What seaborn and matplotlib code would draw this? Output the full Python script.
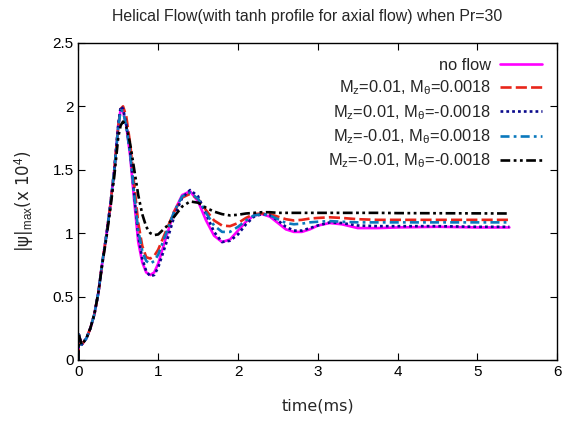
import numpy as np
import matplotlib
matplotlib.use("Agg")
import matplotlib.pyplot as plt
import seaborn as sns
import pandas as pd

# time axis (ms) and |psi|max (x 10^4)
time = [0.0, 0.005, 0.04, 0.1, 0.15, 0.2, 0.25, 0.3, 0.35, 0.4, 0.45, 0.5, 0.53, 0.56,
        0.6, 0.65, 0.7, 0.75, 0.8, 0.85, 0.9, 0.95, 1.0, 1.1, 1.2, 1.3, 1.4, 1.5,
        1.6, 1.7, 1.8, 1.9, 2.0, 2.1, 2.2, 2.3, 2.4, 2.5, 2.6, 2.7, 2.8, 2.9, 3.0,
        3.15, 3.3, 3.5, 3.75, 4.0, 4.5, 5.0, 5.4]

no_flow = [0.0, 0.2, 0.12, 0.17, 0.25, 0.36, 0.53, 0.77, 0.98, 1.22, 1.5, 1.85, 1.98, 1.96,
           1.85, 1.6, 1.25, 0.93, 0.77, 0.69, 0.67, 0.69, 0.76, 0.97, 1.17, 1.30, 1.33, 1.25,
           1.10, 0.98, 0.93, 0.95, 1.02, 1.09, 1.14, 1.15, 1.13, 1.08, 1.03, 1.01, 1.01, 1.03, 1.06,
           1.08, 1.07, 1.04, 1.04, 1.045, 1.05, 1.045, 1.045]

mz_p_mt_p = [0.0, 0.2, 0.12, 0.17, 0.25, 0.36, 0.53, 0.77, 0.98, 1.22, 1.5, 1.85, 1.98, 2.0,
             1.92, 1.70, 1.38, 1.08, 0.90, 0.81, 0.80, 0.82, 0.87, 1.02, 1.17, 1.28, 1.31, 1.27,
             1.18, 1.10, 1.06, 1.055, 1.08, 1.12, 1.15, 1.155, 1.15, 1.13, 1.11, 1.10, 1.105, 1.115, 1.12,
             1.125, 1.12, 1.11, 1.105, 1.105, 1.105, 1.105, 1.105]

mz_p_mt_n = [0.0, 0.2, 0.12, 0.17, 0.25, 0.36, 0.53, 0.77, 0.98, 1.22, 1.5, 1.86, 2.0, 1.98,
             1.86, 1.63, 1.30, 0.98, 0.80, 0.70, 0.66, 0.67, 0.73, 0.92, 1.13, 1.28, 1.34, 1.29,
             1.15, 1.01, 0.93, 0.94, 0.99, 1.07, 1.13, 1.15, 1.14, 1.10, 1.05, 1.02, 1.02, 1.04, 1.06,
             1.085, 1.08, 1.06, 1.055, 1.055, 1.055, 1.05, 1.05]

mz_n_mt_p = [0.0, 0.2, 0.12, 0.17, 0.25, 0.36, 0.53, 0.77, 0.98, 1.22, 1.5, 1.84, 1.97, 1.96,
             1.84, 1.62, 1.30, 1.02, 0.86, 0.78, 0.76, 0.78, 0.83, 1.00, 1.17, 1.29, 1.32, 1.27,
             1.16, 1.06, 1.01, 1.01, 1.05, 1.10, 1.14, 1.15, 1.14, 1.11, 1.08, 1.07, 1.075, 1.085, 1.09,
             1.095, 1.09, 1.085, 1.085, 1.085, 1.085, 1.085, 1.085]

mz_n_mt_n = [0.0, 0.2, 0.12, 0.17, 0.25, 0.36, 0.53, 0.76, 0.96, 1.19, 1.45, 1.76, 1.85, 1.88,
             1.84, 1.70, 1.50, 1.30, 1.15, 1.05, 1.00, 0.985, 0.99, 1.05, 1.13, 1.21, 1.25, 1.24,
             1.20, 1.17, 1.15, 1.14, 1.145, 1.155, 1.16, 1.165, 1.165, 1.16, 1.16, 1.16, 1.16, 1.16, 1.16,
             1.16, 1.16, 1.16, 1.16, 1.158, 1.157, 1.156, 1.155]

labels = ["no flow",
          r"M$_z$=0.01, M$_\theta$=0.0018",
          r"M$_z$=0.01, M$_\theta$=-0.0018",
          r"M$_z$=-0.01, M$_\theta$=0.0018",
          r"M$_z$=-0.01, M$_\theta$=-0.0018"]
series = [no_flow, mz_p_mt_p, mz_p_mt_n, mz_n_mt_p, mz_n_mt_n]
colors = ["#ff00ff", "#e8261a", "#0a0a8c", "#0a78bc", "#000000"]
styles = ["-", (0, (8, 3)), (0, (2, 2.2)), (0, (6.5, 3, 2, 3)), (0, (7, 2.5, 2, 2.5, 2, 2.5))]

sns.set_style("ticks")
plt.rcParams["font.family"] = ["Liberation Sans", "DejaVu Sans"]
plt.rcParams["mathtext.fontset"] = "custom"
plt.rcParams["mathtext.rm"] = "Liberation Sans"
plt.rcParams["mathtext.it"] = "Liberation Sans"
plt.rcParams["lines.scale_dashes"] = False

fig, ax = plt.subplots(figsize=(5.64, 4.21), dpi=100)
fig.subplots_adjust(left=0.139, right=0.988, bottom=0.145, top=0.898)

for lab, vals, c, ls in zip(labels, series, colors, styles):
    df = pd.DataFrame({"time": time, "psi": vals})
    sns.lineplot(data=df, x="time", y="psi", ax=ax, color=c, linestyle=ls,
                 linewidth=1.9, label=lab)

ax.set_xlim(0, 6)
ax.set_ylim(0, 2.5)
ax.set_xticks([0, 1, 2, 3, 4, 5, 6])
ax.set_yticks([0, 0.5, 1, 1.5, 2, 2.5])
ax.set_yticklabels(["0", "0.5", "1", "1.5", "2", "2.5"])
ax.tick_params(direction="in", top=True, right=True, labelsize=11, length=5,
               width=0.8, colors="black")
for s in ax.spines.values():
    s.set_color("black")
    s.set_linewidth(1.0)

ax.set_xlabel("time(ms)", fontsize=11.5, labelpad=14, family="DejaVu Sans")
ax.set_ylabel(r"|ψ|$_{\rm max}$(x 10$^{4}$)", fontsize=12, labelpad=12,
              family="DejaVu Sans")
ax.set_title("Helical Flow(with tanh profile for axial flow) when Pr=30",
             fontsize=11.4, pad=16, x=0.478)

ax.legend(loc="upper right", frameon=False, markerfirst=False, fontsize=11.8,
          handlelength=2.6, handletextpad=0.55, labelspacing=0.35,
          borderaxespad=0.5)

fig.savefig("out.png", dpi=100)
